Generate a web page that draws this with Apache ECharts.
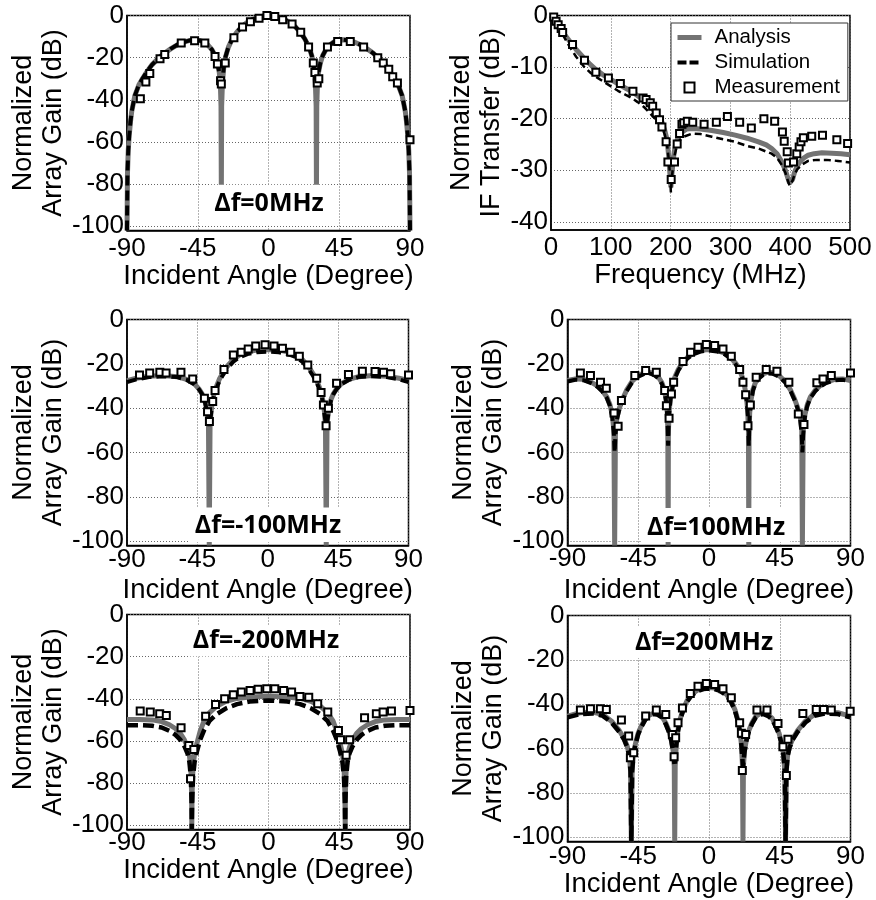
<!DOCTYPE html>
<html>
<head>
<meta charset="utf-8">
<title>Normalized array gain / IF transfer</title>
<script src="https://cdn.jsdelivr.net/npm/echarts@6/dist/echarts.min.js"></script>
<style>
  html, body { margin: 0; padding: 0; background: #fff; }
  #chart { width: 876px; height: 900px; }
</style>
</head>
<body>
<div id="chart"></div>
<script>
// Tick values
const angleTicks = [-90, -45, 0, 45, 90];
const gainTicks = [0, -20, -40, -60, -80, -100];
const ifTicks = [0, -10, -20, -30, -40];
const freqTicks = [0, 100, 200, 300, 400, 500];

// --- Δf = 0 MHz ---
const p1Analysis = [[-90,-102],[-89.7,-75],[-89.2,-64],[-88.6,-57],[-87.8,-50.5],[-87,-45.5],[-85,-38],[-82.5,-33],[-80,-29.8],[-77,-26.3],[-74,-23.3],[-70,-20.3],[-66,-17.8],[-62,-15.7],[-58,-13.9],[-54,-12.6],[-50,-11.8],[-47,-11.5],[-44,-11.8],[-41,-12.6],[-38.5,-14],[-36,-16.2],[-34,-19],[-32.5,-22.5],[-31.3,-27],[-30.6,-33],[-30.2,-43],[-30,-85],[-29.8,-43],[-29.3,-32],[-28.5,-25],[-27.3,-19.5],[-25.5,-15],[-23,-11],[-20,-7.8],[-17,-5.3],[-14,-3.5],[-10,-1.8],[-6,-0.7],[-3,-0.2],[0,0],[3,-0.2],[6,-0.7],[10,-1.8],[14,-3.5],[17,-5.3],[20,-7.8],[23,-11],[25.8,-15],[27.7,-19.5],[28.9,-25],[29.8,-32],[30.3,-43],[30.5,-85],[30.7,-43],[31.1,-33],[31.8,-27],[33,-22.5],[34.5,-19],[36.5,-16.2],[39,-14],[41.5,-12.6],[44.5,-11.8],[47.5,-11.5],[50.5,-11.8],[54.5,-12.6],[58.5,-13.9],[62.5,-15.7],[66.5,-17.8],[70,-20.3],[74,-23.3],[77,-26.3],[80,-29.8],[82.5,-33],[85,-38],[87,-45.5],[87.8,-50.5],[88.6,-57],[89.2,-64],[89.7,-75],[90,-102]];
const p1Simulation = [[-90,-102],[-89.7,-75],[-89.2,-64],[-88.6,-57],[-87.8,-50.5],[-87,-45.5],[-85,-38],[-82.5,-33],[-80,-29.8],[-77,-26.3],[-74,-23.3],[-70,-20.3],[-66,-17.8],[-62,-15.7],[-58,-13.9],[-54,-12.6],[-50,-11.8],[-47,-11.5],[-44,-11.8],[-41,-12.6],[-38.5,-14],[-36,-16.2],[-34,-19],[-32.5,-22.5],[-31.3,-27],[-30.6,-31.5],[-30,-35],[-29.3,-31],[-28.5,-25],[-27.3,-19.5],[-25.5,-15],[-23,-11],[-20,-7.8],[-17,-5.3],[-14,-3.5],[-10,-1.8],[-6,-0.7],[-3,-0.2],[0,0],[3,-0.2],[6,-0.7],[10,-1.8],[14,-3.5],[17,-5.3],[20,-7.8],[23,-11],[25.8,-15],[27.7,-19.5],[28.9,-25],[29.8,-31],[30.5,-35],[31.1,-31.5],[31.8,-27],[33,-22.5],[34.5,-19],[36.5,-16.2],[39,-14],[41.5,-12.6],[44.5,-11.8],[47.5,-11.5],[50.5,-11.8],[54.5,-12.6],[58.5,-13.9],[62.5,-15.7],[66.5,-17.8],[70,-20.3],[74,-23.3],[77,-26.3],[80,-29.8],[82.5,-33],[85,-38],[87,-45.5],[87.8,-50.5],[88.6,-57],[89.2,-64],[89.7,-75],[90,-102]];
const p1Measurement = [[-81.5,-39.5],[-78,-31.5],[-75.5,-27.5],[-69,-20.5],[-66,-18.5],[-55.5,-13],[-47,-12],[-40.5,-13],[-34,-19.5],[-32.5,-23],[-30.5,-31],[-30,-32.5],[-27.5,-22.5],[-22,-10.5],[-16.5,-5.5],[-11.5,-3],[-6,-1.3],[-1,0],[4,-0.5],[9,-2],[15,-4],[20.5,-8],[25.5,-15],[28.5,-22.5],[29.5,-27],[31,-32],[32,-30],[37.5,-15],[44,-12.3],[52,-12.3],[60.5,-15],[69.5,-20],[73,-22.5],[76.5,-25.5],[79,-29],[82,-32],[90,-59]];

// --- IF transfer ---
const p2Analysis = [[0,0],[8,-1.2],[18,-3],[30,-4.8],[42,-6.6],[53,-8],[64,-9.3],[75,-10.5],[87,-11.5],[100,-12.4],[114,-13.4],[128,-14.3],[142,-15.3],[156,-16.5],[166,-17.6],[174,-18.7],[181,-19.8],[186,-20.8],[190,-22.2],[194,-24],[197,-27.5],[199,-31],[200.5,-33.3],[202,-31],[204,-28.5],[206,-26.5],[208.5,-24.9],[213,-23.5],[219,-22.6],[227,-22],[236,-21.9],[250,-22],[269,-22.3],[288,-22.7],[308,-23.2],[328,-23.8],[347,-24.5],[360,-25.1],[369,-25.8],[378,-26.8],[386,-28.4],[392,-30],[396,-31.5],[399,-32.5],[401,-32.8],[404,-31.8],[407,-30.5],[411,-29.4],[416,-28.4],[423,-27.6],[430,-27.1],[440,-26.8],[453,-26.6],[470,-26.7],[485,-26.8],[500,-27]];
const p2Simulation = [[0,0],[8,-1.3],[18,-3.4],[30,-5.8],[42,-8],[55,-9.9],[67,-11.2],[78,-12.1],[90,-13],[101,-13.8],[112,-14.6],[125,-15.4],[135,-16],[145,-16.8],[156,-17.8],[166,-19],[174,-20],[181,-20.8],[186,-21.7],[190,-23],[194,-25],[197,-28],[199,-31],[200.5,-34.3],[202,-31.5],[204.5,-29],[207,-27],[210,-25.5],[215,-24.2],[222,-23.5],[236,-22.9],[250,-23],[269,-23.5],[288,-24],[308,-24.5],[328,-25.3],[347,-25.8],[360,-26.4],[369,-26.8],[378,-27.6],[386,-29],[392,-30.5],[396,-32],[399,-33],[401,-33.3],[404,-32],[408,-30.6],[412,-29.8],[420,-28.9],[430,-28.2],[445,-28],[460,-28],[480,-28.2],[500,-28.5]];
const p2Measurement = [[4.5,-0.3],[8.5,-1.1],[12,-1.8],[17,-2.5],[19.5,-3.3],[36,-5.6],[56,-8.7],[75,-11],[96,-12.1],[116,-13.2],[137,-14.7],[154,-16],[159,-16.3],[166,-16.9],[170,-17.6],[176,-18.9],[181.5,-20.2],[185.5,-21.6],[192.5,-24.5],[195.5,-28.4],[201,-31.8],[206.5,-28.4],[211,-24.9],[215,-22.9],[219,-21.1],[222,-20.8],[228,-20.5],[237,-20.7],[256,-21.1],[276.5,-20.7],[295,-19.6],[315.5,-20.7],[335,-21.8],[356,-20],[374,-20.5],[387,-22.6],[390,-24.4],[395,-26.4],[397,-28.6],[405.5,-28.4],[411,-26.8],[415,-25.5],[418,-24.5],[422,-23.7],[436,-23.4],[454,-23.2],[478,-24.1],[496,-24.8]];

// --- Δf = -100 MHz ---
const p3Analysis = [[-90,-27.6],[-84,-26.5],[-76,-25.6],[-67,-25.3],[-58,-25.8],[-52,-27],[-47,-29],[-44,-31.3],[-42,-33.5],[-40.5,-36],[-39.3,-39.5],[-38.5,-43],[-37.9,-48],[-37.4,-102],[-36.9,-48],[-36.3,-42],[-35.5,-37.5],[-34.5,-34],[-33,-30.5],[-31,-27],[-29,-24.5],[-26,-21.2],[-22,-18],[-18,-16],[-13,-14.6],[-7,-13.8],[0,-13.5],[7,-13.8],[13,-14.6],[18,-16],[22,-18],[26,-21.2],[29,-24.5],[31,-27],[33,-30.5],[34.5,-34],[35.5,-37.5],[36.3,-42],[36.9,-48],[37.4,-102],[37.9,-48],[38.5,-43],[39.3,-39.5],[40.5,-36],[42,-33.5],[44,-31.3],[47,-29],[52,-27],[58,-25.8],[67,-25.3],[76,-25.6],[84,-26.5],[90,-27.6]];
const p3Simulation = [[-90,-28.3],[-84,-27],[-76,-26],[-67,-25.6],[-58,-26],[-52,-27.2],[-47,-29.2],[-44,-31.5],[-42,-33.7],[-40.5,-36.3],[-39.3,-40],[-38.5,-44],[-37.4,-48],[-36.3,-43],[-35.5,-38],[-34.5,-35],[-33,-31.5],[-31,-28],[-29,-25.5],[-26,-22.2],[-22,-19],[-18,-17],[-13,-15.6],[-7,-14.8],[0,-14.5],[7,-14.8],[13,-15.6],[18,-17],[22,-19],[26,-22.2],[29,-25.5],[31,-28],[33,-31.5],[34.5,-35],[35.5,-38],[36.3,-43],[37.4,-48],[38.5,-44],[39.3,-40],[40.5,-36.3],[42,-33.7],[44,-31.5],[47,-29.2],[52,-27.2],[58,-26],[67,-25.6],[76,-26],[84,-27],[90,-28.3]];
const p3Measurement = [[-82,-25],[-75.5,-24.2],[-69,-23.8],[-65,-24.1],[-55.5,-23.8],[-48,-26.8],[-40.5,-35.5],[-38.5,-41.6],[-37.3,-46],[-35.2,-37],[-33.7,-32],[-28,-22.6],[-22,-16],[-17,-14.8],[-12.5,-13.3],[-7.7,-12],[-1.7,-11.4],[4,-12],[9.4,-13],[14.7,-14.8],[20.2,-16.6],[25.6,-20.5],[31.3,-26.5],[34.1,-33],[35.6,-38.6],[37.3,-48],[38.8,-40],[44,-28.8],[51.6,-24.8],[60.5,-23.3],[68.6,-23.5],[74,-23.8],[78.6,-24.5],[90,-25]];

// --- Δf = 100 MHz ---
const p4Analysis = [[-90,-27.5],[-85,-26.8],[-80,-27],[-75,-28.3],[-71,-30],[-68,-32],[-65,-35],[-63,-38.5],[-61.5,-43],[-60.5,-50],[-60,-102],[-59.5,-50],[-58.5,-44],[-57,-40],[-55,-36],[-52.5,-32],[-49,-28],[-45,-25.3],[-41,-24],[-38,-23.8],[-35,-24.5],[-32,-26.2],[-30,-28.5],[-28.5,-31.5],[-27.3,-36],[-26.5,-42],[-26.2,-50],[-26,-102],[-25.8,-50],[-25.3,-41],[-24.4,-35],[-23.2,-30],[-21.7,-26],[-19.5,-22.5],[-17,-19.8],[-14,-17.3],[-10,-15.2],[-5,-13.9],[0,-13.5],[5,-13.9],[10,-15.2],[14,-17.3],[17,-19.8],[19.3,-22.5],[21.2,-26],[22.6,-30],[23.8,-35],[24.6,-41],[25.1,-50],[25.3,-102],[25.5,-50],[25.9,-42],[26.8,-36],[28,-31.5],[29.5,-28.5],[31.5,-26.2],[34.5,-24.5],[37.5,-23.8],[40.5,-24],[44.5,-25.3],[48.5,-28],[52,-32],[54.5,-36],[56.5,-40],[58,-44],[59,-50],[59.4,-102],[59.9,-50],[61,-43],[62.5,-38.5],[64.5,-35],[67.5,-32],[70.5,-30],[74.5,-28.3],[80,-27],[85,-26.8],[90,-27.5]];
const p4Simulation = [[-90,-28],[-85,-27.2],[-80,-27.4],[-75,-28.7],[-71,-30.4],[-68,-32.4],[-65,-35.4],[-63,-39],[-61.5,-44],[-60.5,-52],[-60,-60],[-59.5,-52],[-58.5,-45],[-57,-40.5],[-55,-36.5],[-52.5,-32.5],[-49,-28.5],[-45,-25.8],[-41,-24.5],[-38,-24.3],[-35,-25],[-32,-26.7],[-30,-29],[-28.5,-32],[-27.3,-37],[-26.5,-44],[-26,-57],[-25.5,-44],[-24.4,-35.5],[-23.2,-30.5],[-21.7,-26.5],[-19.5,-23],[-17,-20.3],[-14,-17.8],[-10,-15.7],[-5,-14.4],[0,-14],[5,-14.4],[10,-15.7],[14,-17.8],[17,-20.3],[19.3,-23],[21.2,-26.5],[22.6,-30.5],[23.8,-35.5],[24.8,-44],[25.3,-57],[25.8,-44],[26.8,-37],[28,-32],[29.5,-29],[31.5,-26.7],[34.5,-25],[37.5,-24.3],[40.5,-24.5],[44.5,-25.8],[48.5,-28.5],[52,-32.5],[54.5,-36.5],[56.5,-40.5],[58,-45],[59,-52],[59.4,-60],[59.9,-52],[61,-44],[62.5,-39],[64.5,-35.4],[67.5,-32.4],[70.5,-30.4],[74.5,-28.7],[80,-27.4],[85,-27.2],[90,-28]];
const p4Measurement = [[-81.8,-24.2],[-75.4,-25.3],[-69,-28.3],[-65.3,-31],[-60.4,-42.2],[-57.8,-48.2],[-55.7,-36.6],[-47.2,-25.3],[-40.3,-23],[-33.5,-23.8],[-28.2,-32],[-27.1,-38.9],[-25.4,-44.6],[-23.9,-33.6],[-22.5,-28.3],[-16.5,-19],[-11.7,-14.8],[-7,-12.5],[-1.7,-11.3],[3.6,-11.7],[8.9,-13.3],[14.2,-16.6],[19.5,-22.6],[21.6,-28.3],[23.3,-34],[24.8,-47.9],[26.3,-38.6],[30,-26.1],[36.4,-22.6],[43.2,-23.3],[50.8,-28.3],[56.8,-42.6],[60.4,-47.4],[68.6,-28.6],[72.5,-26.8],[77.8,-25.3],[90,-24.2]];

// --- Δf = -200 MHz ---
const p5Analysis = [[-90,-49.8],[-82,-49.8],[-74,-50],[-68,-50.8],[-63,-52.3],[-59,-54.2],[-56,-56.5],[-53.5,-59.5],[-51.5,-63],[-50.3,-67],[-49.4,-73],[-48.9,-85],[-48.8,-102],[-48.6,-85],[-48,-72],[-47,-66],[-45.5,-61],[-43.5,-55.5],[-41,-50.5],[-37.5,-46.5],[-33,-43.5],[-27,-41.2],[-20,-39.8],[-12,-39.1],[0,-38.8],[12,-39.1],[20,-39.8],[27,-41.2],[33,-43.5],[37.5,-46.5],[41,-50.5],[43.5,-55.5],[45.5,-61],[47,-66],[48,-72],[48.6,-85],[48.8,-102],[48.9,-85],[49.4,-73],[50.3,-67],[51.5,-63],[53.5,-59.5],[56,-56.5],[59,-54.2],[63,-52.3],[68,-50.8],[74,-50],[82,-49.8],[90,-49.8]];
const p5Simulation = [[-90,-52.5],[-82,-52.5],[-74,-52.8],[-68,-53.6],[-63,-55.2],[-59,-57.2],[-56,-59.5],[-53.5,-62.5],[-51.5,-66],[-50.3,-70],[-49.4,-77],[-48.9,-90],[-48.8,-102],[-48.6,-90],[-48,-77],[-47,-70],[-45.5,-65],[-43.5,-59.5],[-41,-55],[-37.5,-50.5],[-33,-47.3],[-27,-44.5],[-20,-42.5],[-12,-41.3],[0,-40.8],[12,-41.3],[20,-42.5],[27,-44.5],[33,-47.3],[37.5,-50.5],[41,-55],[43.5,-59.5],[45.5,-65],[47,-70],[48,-77],[48.6,-90],[48.8,-102],[48.9,-90],[49.4,-77],[50.3,-70],[51.5,-66],[53.5,-62.5],[56,-59.5],[59,-57.2],[63,-55.2],[68,-53.6],[74,-52.8],[82,-52.5],[90,-52.5]];
const p5Measurement = [[-81.6,-45.8],[-75.2,-46.3],[-69.2,-47.1],[-65,-47.9],[-55.6,-53.7],[-50.7,-62.1],[-49.6,-77.9],[-47.5,-64.1],[-40,-48.3],[-33.7,-42.7],[-27.9,-40],[-22.4,-38.1],[-17.3,-36.8],[-11.7,-36],[-6.6,-35.5],[-1.1,-35.2],[4,-35.2],[9.6,-36],[14.7,-36.8],[20,-38.9],[25.6,-39.2],[31.3,-42.3],[37.7,-46.3],[44.5,-55],[45.8,-59.4],[49.4,-66.8],[51.6,-59.4],[61.1,-49],[68.6,-47.1],[72.9,-46.3],[78.2,-45.8],[90,-45.5]];

// --- Δf = 200 MHz ---
const p6Analysis = [[-90,-45.4],[-82,-43.9],[-74,-43.6],[-67.5,-44.7],[-62,-47.7],[-57,-52],[-54,-55.5],[-52,-59],[-50.7,-63],[-49.9,-70],[-49.4,-102],[-48.9,-70],[-48,-62],[-46.5,-57],[-45,-53],[-43,-49.8],[-40.5,-46.5],[-38,-45],[-35,-44],[-32.5,-44.3],[-30,-45.5],[-27.5,-48.5],[-25.5,-52],[-24,-56],[-22.8,-61],[-22.1,-68],[-21.8,-102],[-21.5,-68],[-20.8,-58],[-19.8,-52],[-18.5,-47],[-16.5,-42.5],[-14,-38.5],[-11,-35.5],[-7,-33.5],[-3.5,-32.7],[0,-32.5],[3.5,-32.7],[7,-33.5],[11,-35.5],[14,-38.5],[16.5,-42.5],[18.3,-47],[19.6,-52],[20.6,-58],[21.3,-68],[21.6,-102],[21.9,-68],[22.6,-61],[23.8,-56],[25.3,-52],[27.3,-48.5],[29.8,-45.5],[32.3,-44.3],[34.8,-44],[37.8,-45],[40.3,-46.5],[42.5,-49.8],[44.5,-53],[46,-57],[47.3,-62],[48.2,-70],[48.7,-102],[49.2,-70],[50,-63],[51.3,-59],[53.3,-55.5],[56.3,-52],[61.3,-47.7],[67,-44.7],[74,-43.6],[82,-43.9],[90,-45.4]];
const p6Simulation = [[-90,-46],[-82,-44.5],[-74,-44.2],[-67.5,-45.3],[-62,-48.3],[-57,-52.6],[-54,-56],[-52,-59.5],[-50.7,-63.5],[-49.9,-70.5],[-49.4,-102],[-48.9,-70.5],[-48,-62.5],[-46.5,-57.5],[-45,-53.5],[-43,-50.3],[-40.5,-47],[-38,-45.5],[-35,-44.5],[-32.5,-44.8],[-30,-46],[-27.5,-49],[-25.5,-52.5],[-24,-56.5],[-22.8,-61.5],[-21.8,-68],[-20.8,-58.5],[-19.8,-52.5],[-18.5,-47.5],[-16.5,-43],[-14,-39],[-11,-36],[-7,-34],[-3.5,-33.2],[0,-33],[3.5,-33.2],[7,-34],[11,-36],[14,-39],[16.5,-43],[18.3,-47.5],[19.6,-52.5],[20.6,-58.5],[21.6,-68],[22.6,-61.5],[23.8,-56.5],[25.3,-52.5],[27.3,-49],[29.8,-46],[32.3,-44.8],[34.8,-44.5],[37.8,-45.5],[40.3,-47],[42.5,-50.3],[44.5,-53.5],[46,-57.5],[47.3,-62.5],[48.2,-70.5],[48.7,-102],[49.2,-70.5],[50,-63.5],[51.3,-59.5],[53.3,-56],[56.3,-52.6],[61.3,-48.3],[67,-45.3],[74,-44.2],[82,-44.5],[90,-46]];
const p6Measurement = [[-81.8,-42.7],[-75.4,-42.1],[-69.1,-42.1],[-65.3,-42.4],[-55.7,-47.2],[-51.1,-54.4],[-50,-64.2],[-47.9,-62],[-40.3,-45.4],[-33.5,-42.7],[-27.5,-44.7],[-23.3,-53.7],[-22.2,-63.8],[-21.2,-55.2],[-19.7,-48.4],[-16.9,-41.7],[-11.9,-35.2],[-7,-31.9],[-1.7,-30.7],[3.6,-31.1],[8.9,-33.1],[14.2,-37.1],[19.5,-48.4],[20.6,-53.2],[21.2,-69.9],[23.3,-53.7],[30.5,-42.7],[36.9,-42.7],[43.9,-48.7],[47,-59.2],[49.2,-72.2],[50.2,-55.9],[59.7,-44.2],[68.2,-42.4],[72.9,-42.4],[77.8,-42.7],[89.8,-43.2]];

const FONT = '"Liberation Sans", Arial, sans-serif';
const GRAY = '#737373';
const GAIN_NAME = 'Normalized\nArray Gain (dB)';
const ANGLE_NAME = 'Incident Angle (Degree)';

const panels = [
  { grid: { left: 127, top: 15.5, width: 283, height: 215 }, xMin: -90, xMax: 90, xStep: 45, xName: ANGLE_NAME,
    yMin: -102, yTicks: gainTicks, yName: GAIN_NAME, yGap: 58, xMargin: 5, xNameGap: 29,
    data: [p1Analysis, p1Simulation, p1Measurement], simWidth: 4, dash: [10, 5],
    tag: { text: 'Δf=0MHz', x: 269, y: 184.7, padding: [7, 5, 9, 5] } },
  { grid: { left: 551, top: 15.5, width: 299, height: 214.5 }, xMin: 0, xMax: 500, xStep: 100, xName: 'Frequency (MHz)',
    yMin: -41.6, yTicks: ifTicks, yName: 'Normalized\nIF Transfer (dB)', yGap: 41, xMargin: 5, xNameGap: 29,
    data: [p2Analysis, p2Simulation, p2Measurement], simWidth: 2.5, dash: [7, 4] },
  { grid: { left: 127, top: 319.5, width: 281.5, height: 226 }, xMin: -90, xMax: 90, xStep: 45, xName: ANGLE_NAME,
    yMin: -102, yTicks: gainTicks, yName: GAIN_NAME, yGap: 58, xMargin: 1, xNameGap: 31,
    data: [p3Analysis, p3Simulation, p3Measurement], simWidth: 4, dash: [10, 5],
    tag: { text: 'Δf=-100MHz', x: 268, y: 507.5, padding: [6, 5, 3.5, 5] } },
  { grid: { left: 567.5, top: 319.5, width: 283, height: 226 }, xMin: -90, xMax: 90, xStep: 45, xName: ANGLE_NAME,
    yMin: -102, yTicks: gainTicks, yName: GAIN_NAME, yGap: 57, xMargin: 0, xNameGap: 31,
    data: [p4Analysis, p4Simulation, p4Measurement], simWidth: 4, dash: [10, 5],
    tag: { text: 'Δf=100MHz', x: 716, y: 508, padding: [7, 5, 2, 5] } },
  { grid: { left: 127, top: 614.5, width: 283, height: 215 }, xMin: -90, xMax: 90, xStep: 45, xName: ANGLE_NAME,
    yMin: -102, yTicks: gainTicks, yName: GAIN_NAME, yGap: 58, xMargin: 0, xNameGap: 27,
    data: [p5Analysis, p5Simulation, p5Measurement], simWidth: 4.5, dash: [11, 5],
    tag: { text: 'Δf=-200MHz', x: 266, y: 625.5, padding: [3, 5, 3, 5] } },
  { grid: { left: 567.5, top: 615.5, width: 283, height: 226 }, xMin: -90, xMax: 90, xStep: 45, xName: ANGLE_NAME,
    yMin: -102, yTicks: gainTicks, yName: GAIN_NAME, yGap: 57, xMargin: 2, xNameGap: 28,
    data: [p6Analysis, p6Simulation, p6Measurement], simWidth: 4.5, dash: [11, 5],
    tag: { text: 'Δf=200MHz', x: 704, y: 627, padding: [3, 5, 3, 5] } }
];

const grid = [], xAxis = [], yAxis = [], series = [], graphic = [];
const gridLine = { show: true, lineStyle: { color: '#666', type: [1, 2], width: 1 } };

panels.forEach((p, i) => {
  grid.push(Object.assign({ show: true, borderColor: '#000', borderWidth: 1.5 }, p.grid));

  xAxis.push({
    gridIndex: i, type: 'value', min: p.xMin, max: p.xMax, interval: p.xStep,
    name: p.xName, nameLocation: 'middle', nameGap: p.xNameGap,
    nameTextStyle: { fontFamily: FONT, fontSize: 27.5, color: '#000' },
    axisLine: { show: true, onZero: false, lineStyle: { color: '#000', width: 1.5 } },
    axisTick: { show: false },
    axisLabel: { fontFamily: FONT, fontSize: 26, color: '#000', margin: p.xMargin },
    splitLine: gridLine
  });

  yAxis.push({
    gridIndex: i, type: 'value', min: p.yMin, max: 0,
    name: p.yName, nameLocation: 'middle', nameRotate: 90, nameGap: p.yGap,
    nameTextStyle: { fontFamily: FONT, fontSize: 27, lineHeight: 30, color: '#000' },
    axisLine: { show: true, onZero: false, lineStyle: { color: '#000', width: 1.5 } },
    axisTick: { show: false, customValues: p.yTicks },
    axisLabel: { fontFamily: FONT, fontSize: 26, color: '#000', margin: 3, customValues: p.yTicks },
    splitLine: gridLine
  });

  const [analysis, simulation, measurement] = p.data;
  series.push({
    name: 'Analysis', type: 'line', xAxisIndex: i, yAxisIndex: i, data: analysis,
    symbol: 'none', itemStyle: { color: GRAY }, lineStyle: { color: GRAY, width: 5 }, z: 2
  });
  series.push({
    name: 'Simulation', type: 'line', xAxisIndex: i, yAxisIndex: i, data: simulation,
    symbol: 'none', itemStyle: { color: '#000' }, lineStyle: { color: '#000', width: p.simWidth, type: p.dash }, z: 3
  });
  series.push({
    name: 'Measurement', type: 'scatter', xAxisIndex: i, yAxisIndex: i, data: measurement,
    symbol: 'rect', symbolSize: 7,
    itemStyle: { color: '#fff', borderColor: '#000', borderWidth: 2, opacity: 1 }, z: 4
  });

  if (p.tag) {
    graphic.push({
      type: 'text', x: p.tag.x, y: p.tag.y, z: 50,
      style: {
        text: p.tag.text, font: 'bold 25px "Open Sans"', fill: '#000',
        align: 'center', verticalAlign: 'top',
        backgroundColor: '#fff', padding: p.tag.padding
      }
    });
  }
});

const hiddenDot = { color: 'rgba(0,0,0,0)', borderWidth: 0, opacity: 0 };
const chart = echarts.init(document.getElementById('chart'), null, { renderer: 'canvas' });
chart.setOption({
  animation: false,
  backgroundColor: '#fff',
  grid, xAxis, yAxis, series, graphic,
  legend: {
    data: [
      { name: 'Analysis', itemStyle: hiddenDot, lineStyle: { color: GRAY, width: 5 } },
      { name: 'Simulation', itemStyle: hiddenDot, lineStyle: { color: '#000', width: 4, type: [9, 3] } },
      { name: 'Measurement', icon: 'path://M0,0H10V10H0Z',
        itemStyle: { color: '#fff', borderColor: '#000', borderWidth: 2 } }
    ],
    orient: 'vertical', left: 671, top: 23, symbolKeepAspect: true,
    backgroundColor: '#fff', borderColor: '#333', borderWidth: 1,
    padding: [4, 8, 3, 4], itemWidth: 24, itemHeight: 10, itemGap: 4,
    selectedMode: false,
    textStyle: { fontFamily: FONT, fontSize: 20.5, lineHeight: 20, color: '#000', padding: [0, 0, 0, 8] }
  }
});
</script>
</body>
</html>
